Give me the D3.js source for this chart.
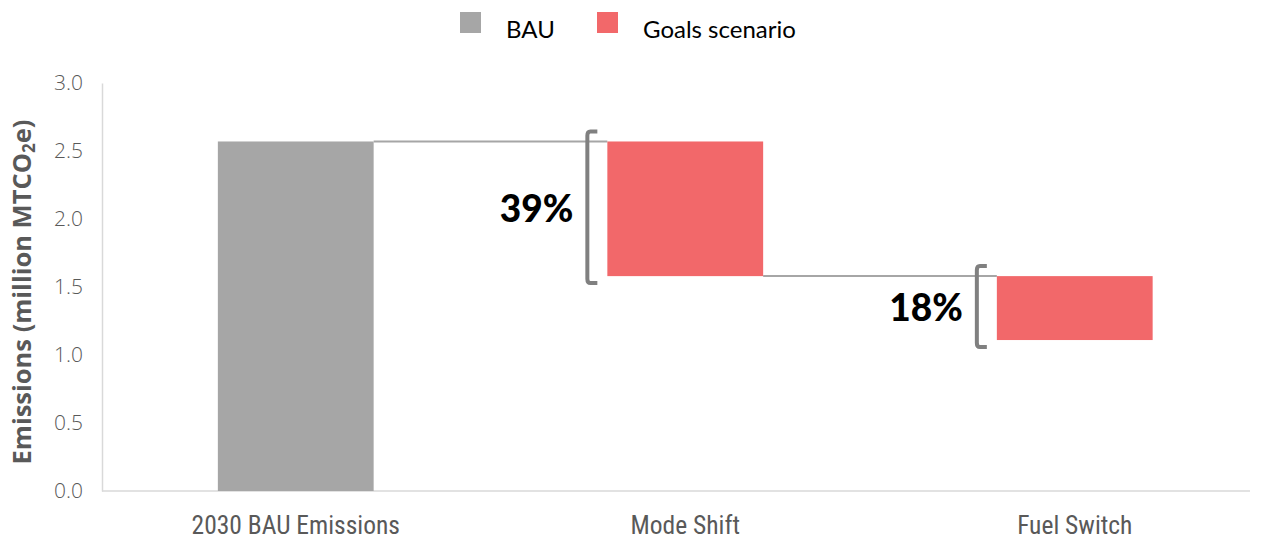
<!DOCTYPE html>
<html><head><meta charset="utf-8">
<script src="https://cdn.jsdelivr.net/npm/d3@7"></script>
<style>body{margin:0;background:#fff}svg{display:block}</style>
</head><body>
<svg id="c" width="1264" height="540"></svg>
<script>
const categories = ["2030 BAU Emissions", "Mode Shift", "Fuel Switch"];
const barStart = [0, 1.58, 1.11];     // bottom of each bar
const barEnd   = [2.57, 2.57, 1.58];  // top of each bar
const series   = ["BAU", "Goals scenario", "Goals scenario"];
const pctLabels = [null, "39%", "18%"];
const yTicks = [0, 0.5, 1.0, 1.5, 2.0, 2.5, 3.0];
const legendItems = ["BAU", "Goals scenario"];
const colors = {"BAU": "#a6a6a6", "Goals scenario": "#f2686a"};

const svg = d3.select("#c");
const x = d3.scaleBand().domain(categories).range([101, 1269.5]).paddingInner(0.6).paddingOuter(0.3);
const y = d3.scaleLinear().domain([0, 3]).range([491, 83]);
const axisRight = 1250;

// y axis
const ya = svg.append("g").attr("transform", "translate(102,0)")
  .call(d3.axisLeft(y).tickValues(yTicks).tickFormat(d3.format(".1f")).tickSize(0).tickPadding(19));
ya.select(".domain").attr("stroke", "#d9d9d9").attr("stroke-width", 1.5);
ya.selectAll("text").attr("font-family", "Open Sans, sans-serif").attr("font-weight", 300)
  .attr("font-size", 21).attr("fill", "#595959");

// x axis line
svg.append("line").attr("x1", 102).attr("x2", axisRight).attr("y1", y(0)).attr("y2", y(0))
  .attr("stroke", "#d9d9d9").attr("stroke-width", 1.5);

// x labels
const xa = svg.append("g").attr("transform", `translate(0,${y(0)})`)
  .call(d3.axisBottom(x).tickSize(0).tickPadding(25));
xa.select(".domain").remove();
xa.selectAll("text").attr("font-family", "Liberation Sans Narrow, Roboto Condensed, Open Sans, sans-serif")
  .attr("font-size", 25.5).attr("fill", "#595959");

// connectors
for (let i = 0; i < categories.length - 1; i++) {
  const yy = y(i === 0 ? barEnd[0] : barStart[i]);
  svg.append("line")
    .attr("x1", x(categories[i]) + x.bandwidth()).attr("x2", x(categories[i + 1]))
    .attr("y1", yy).attr("y2", yy).attr("stroke", "#a6a6a6").attr("stroke-width", 2);
}

// bars
svg.selectAll("rect.bar").data(categories).enter().append("rect")
  .attr("class", "bar")
  .attr("x", d => x(d)).attr("width", x.bandwidth())
  .attr("y", (d, i) => y(barEnd[i])).attr("height", (d, i) => y(barStart[i]) - y(barEnd[i]))
  .attr("fill", (d, i) => colors[series[i]]);

// brackets and labels
categories.forEach((c, i) => {
  if (!pctLabels[i]) return;
  const bx = x(c) - 20;
  const top = y(barEnd[i]) - 10, bot = y(barStart[i]) + 7;
  svg.append("path")
    .attr("d", `M${bx + 10},${top} L${bx + 3},${top} Q${bx},${top} ${bx},${top + 4} L${bx},${bot - 4} Q${bx},${bot} ${bx + 3},${bot} L${bx + 10},${bot}`)
    .attr("fill", "none").attr("stroke", "#808080").attr("stroke-width", 4);
  svg.append("text").attr("x", bx - 14).attr("y", (top + bot) / 2)
    .attr("text-anchor", "end").attr("dominant-baseline", "central")
    .attr("font-family", "Lato, Open Sans, sans-serif").attr("font-weight", 900)
    .attr("font-size", 37).attr("fill", "#000").text(pctLabels[i]);
});

// y title
svg.append("text").attr("transform", "translate(31,292) rotate(-90)")
  .attr("text-anchor", "middle").attr("font-family", "Open Sans, sans-serif")
  .attr("font-weight", 700).attr("font-size", 25.5).attr("fill", "#595959")
  .html('Emissions (million MTCO<tspan baseline-shift="-25%" font-size="17">2</tspan>e)');

// legend
const legendX = [460, 597];
const lg = svg.selectAll("g.lg").data(legendItems).enter().append("g")
  .attr("transform", (d, i) => `translate(${legendX[i]},12)`);
lg.append("rect").attr("width", 21).attr("height", 21).attr("fill", d => colors[d]);
lg.append("text").attr("x", 46).attr("y", 26)
  .attr("font-family", "Lato, Open Sans, sans-serif").attr("font-size", 24).attr("fill", "#000").text(d => d);
</script>
</body></html>
